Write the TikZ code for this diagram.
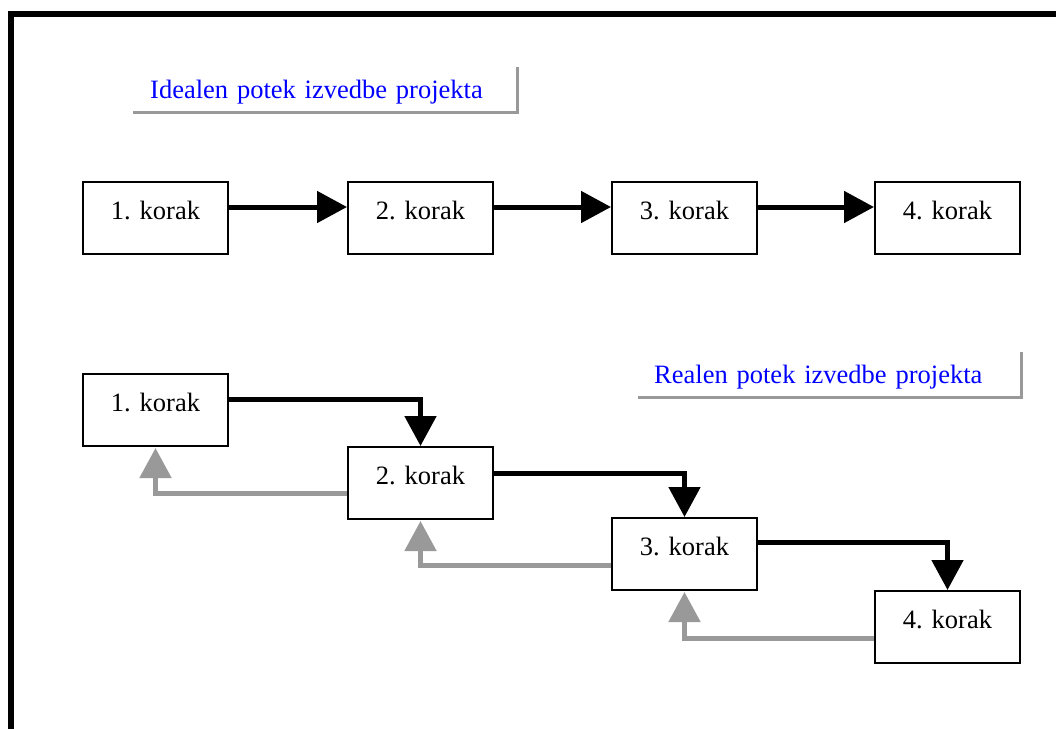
\documentclass[tikz,border=0pt]{standalone}
\usepackage{fontspec}
\setmainfont{Liberation Serif}
\usetikzlibrary{arrows.meta,calc}
\definecolor{backgray}{HTML}{999999}
\definecolor{titleblue}{HTML}{0000FF}
\frenchspacing
\begin{document}
\begin{tikzpicture}[x=1pt,y=-1pt,
  stepbox/.style={draw=black, line width=2pt, fill=white, anchor=north west,
    minimum width=145pt, inner xsep=0pt, inner ysep=0pt,
    text height=37pt, text depth=35pt, align=center, text width=145pt,
    font=\fontsize{26.5}{30}\selectfont},
  fwd/.style={draw=black, line width=5pt,
    -{Triangle[width=31pt,length=30pt]}},
  back/.style={draw=backgray, line width=5pt,
    -{Triangle[width=31pt,length=30pt]}, shorten >=1pt},
  caption/.style={anchor=base west, inner xsep=0pt, inner ysep=0pt,
    text width=367pt, align=left, text height=31pt, text depth=14pt,
    text=titleblue, font=\fontsize{26.5}{30}\selectfont},
  capshadow/.style={draw=backgray, line width=3pt}]
  \useasboundingbox (0,0) rectangle (1056,728);
  \clip (0,0) rectangle (1056,728);
  \fill[white] (0,0) rectangle (1056,728);
  % outer frame, running past the right and bottom edges
  \draw[line width=6pt] (11,14) rectangle (1080,750);

  % ideal sequence
  \node[caption] (ideal) at (150,98) {Idealen potek izvedbe projekta};
  \draw[capshadow] ($(ideal.south west)+(-17,0)$) -| (ideal.north east);

  \node[stepbox] (t1) at (82,181) {1. korak};
  \node[stepbox] (t2) at (347,181) {2. korak};
  \node[stepbox] (t3) at (611,181) {3. korak};
  \node[stepbox] (t4) at (874,181) {4. korak};

  \draw[fwd] ($(t1.north east)+(0,26)$) -- ($(t2.north west)+(0,26)$);
  \draw[fwd] ($(t2.north east)+(0,26)$) -- ($(t3.north west)+(0,26)$);
  \draw[fwd] ($(t3.north east)+(0,26)$) -- ($(t4.north west)+(0,26)$);

  % real sequence with feedback loops
  \node[caption] (real) at (654,383) {Realen potek izvedbe projekta};
  \draw[capshadow] ($(real.south west)+(-16,0)$) -| (real.north east);

  \node[stepbox] (b1) at (82,373) {1. korak};
  \node[stepbox] (b2) at (347,446) {2. korak};
  \node[stepbox] (b3) at (611,517) {3. korak};
  \node[stepbox] (b4) at (874,590) {4. korak};

  \draw[fwd] ($(b1.north east)+(0,26)$) -| (b2.north);
  \draw[fwd] ($(b2.north east)+(0,27)$) -| (b3.north);
  \draw[fwd] ($(b3.north east)+(0,25)$) -| (b4.north);

  \draw[back] ($(b2.north west)+(0,47)$) -| (b1.south);
  \draw[back] ($(b3.north west)+(0,48)$) -| (b2.south);
  \draw[back] ($(b4.north west)+(0,48)$) -| (b3.south);
\end{tikzpicture}
\end{document}
